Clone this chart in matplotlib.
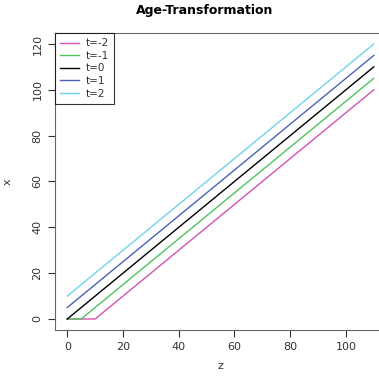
import matplotlib
matplotlib.use('Agg')
import matplotlib.pyplot as plt

# data: x = max(0, z + 5t) evaluated at breakpoints
labels = ['t=-2', 't=-1', 't=0', 't=1', 't=2']
colors = ['#D452B4', '#4EC45C', '#000000', '#4A62B4', '#6ED4EA']
series_z = [[0, 10, 110], [0, 5, 110], [0, 110], [0, 110], [0, 110]]
series_x = [[0, 0, 100], [0, 0, 105], [0, 110], [5, 115], [10, 120]]

fig = plt.figure(figsize=(3.79, 3.76), dpi=100)
ax = fig.add_axes([55 / 379, 46 / 376, 331 / 379, 297 / 376])

for zs, xs, c, lab in zip(series_z, series_x, colors, labels):
    ax.plot(zs, xs, color=c, linewidth=1, label=lab)

ax.set_xlim(-4.4, 114.4)
ax.set_ylim(-4.8, 124.8)
ax.set_xticks([0, 20, 40, 60, 80, 100])
ax.set_yticks([0, 20, 40, 60, 80, 100, 120])
ax.tick_params(direction='out', length=5, width=0.8, labelsize=8, colors='#333333', pad=4)
for lab in ax.get_yticklabels():
    lab.set_rotation(90)
    lab.set_va('center')
for s in ax.spines.values():
    s.set_color('#666666')
    s.set_linewidth(0.8)
ax.spines['right'].set_visible(False)

ax.set_xlabel('z', fontsize=8, color='#333333', labelpad=6)
ax.set_ylabel('x', fontsize=8, color='#333333', labelpad=14)
fig.text(0.54, 0.972, 'Age-Transformation', ha='center', va='center',
         fontsize=9, fontweight='bold')

leg = ax.legend(loc='upper left', fontsize=7.5, frameon=True, fancybox=False,
                borderaxespad=0, handlelength=1.8, handletextpad=0.6,
                labelspacing=0.25, borderpad=0.5)
leg.get_frame().set_edgecolor('black')
leg.get_frame().set_linewidth(0.8)
for t in leg.get_texts():
    t.set_color('#333333')

fig.savefig('out.png', dpi=100)
